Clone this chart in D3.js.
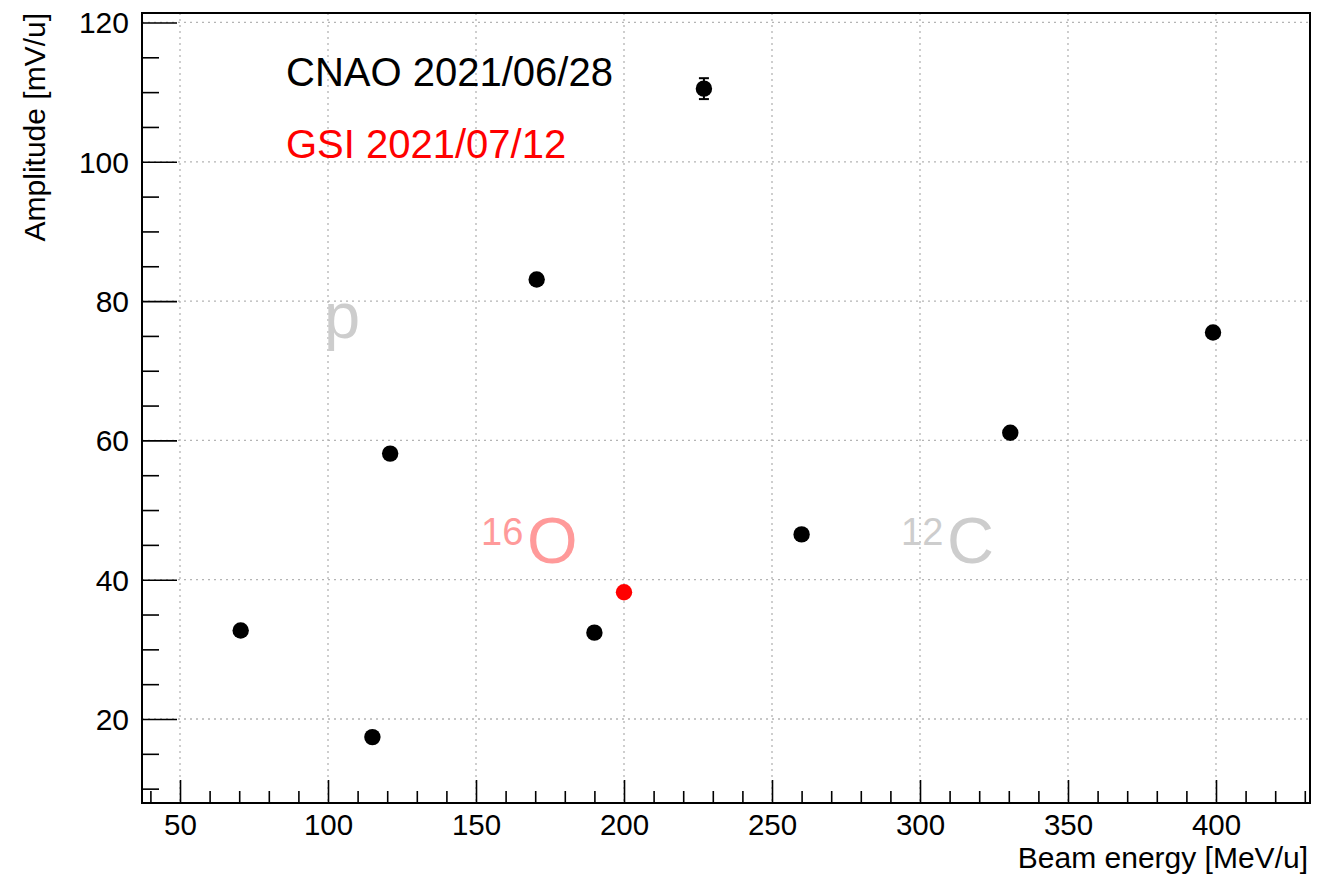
<!DOCTYPE html>
<html>
<head>
<meta charset="utf-8">
<script src="https://cdn.jsdelivr.net/npm/d3@7"></script>
<style>
  body { margin: 0; background: #fff; }
  svg { display: block; font-family: "Liberation Sans", Arial, Helvetica, sans-serif; }
</style>
</head>
<body>
<svg id="chart" width="1321" height="878"></svg>
<script>
// ---- data ----
const cnaoEnergy = [70.5, 115, 121, 170.5, 190, 227, 260, 330.5, 399];
const cnaoAmplitude = [32.7, 17.4, 58.1, 83.1, 32.4, 110.5, 46.5, 61.1, 75.5];
const cnaoError = [0.4, 0.4, 0.4, 0.4, 0.4, 1.5, 0.4, 0.4, 0.4];
const gsiEnergy = [200];
const gsiAmplitude = [38.2];
const gsiError = [0.4];
const xMajorTicks = [50, 100, 150, 200, 250, 300, 350, 400];
const yMajorTicks = [20, 40, 60, 80, 100, 120];
const xTitle = "Beam energy [MeV/u]";
const yTitle = "Amplitude [mV/u]";
const legendLabels = ["CNAO 2021/06/28", "GSI 2021/07/12"];

// ---- layout ----
const L = 142, R = 1310, T = 13, B = 803;
const svg = d3.select("#chart");
const x = d3.scaleLinear().domain([37.16, 431.76]).range([L, R]);
const y = d3.scaleLinear().domain([7.94, 121.36]).range([B, T]);

const xMinor = d3.range(40, 431, 10).filter(v => !xMajorTicks.includes(v));
const yMinor = d3.range(10, 121, 5).filter(v => !yMajorTicks.includes(v));

// grid
const grid = svg.append("g").attr("stroke", "#b4b4b4").attr("stroke-width", 1.3)
  .attr("stroke-dasharray", "2,4");
grid.selectAll("line.gx").data(xMajorTicks).join("line")
  .attr("x1", d => x(d)).attr("x2", d => x(d)).attr("y1", T).attr("y2", B);
grid.selectAll("line.gy").data(yMajorTicks).join("line")
  .attr("x1", L).attr("x2", R).attr("y1", d => y(d)).attr("y2", d => y(d));

// x axis: minor ticks
svg.append("g").attr("transform", `translate(0,${B})`)
  .call(d3.axisBottom(x).tickValues(xMinor).tickSizeInner(-12).tickSizeOuter(0).tickFormat(""))
  .call(g => g.select(".domain").remove())
  .call(g => g.selectAll("line").attr("stroke", "#000").attr("stroke-width", 1.6));
// x axis: major ticks
svg.append("g").attr("transform", `translate(0,${B})`)
  .call(d3.axisBottom(x).tickValues(xMajorTicks).tickSizeInner(-23).tickSizeOuter(0).tickPadding(11))
  .call(g => g.select(".domain").remove())
  .call(g => g.selectAll("line").attr("stroke", "#000").attr("stroke-width", 1.6))
  .call(g => g.selectAll("text").attr("font-size", 29.5).attr("fill", "#000")
    .attr("font-family", "Liberation Sans, Arial, Helvetica, sans-serif"));

// y axis: minor ticks
svg.append("g").attr("transform", `translate(${L},0)`)
  .call(d3.axisLeft(y).tickValues(yMinor).tickSizeInner(-17).tickSizeOuter(0).tickFormat(""))
  .call(g => g.select(".domain").remove())
  .call(g => g.selectAll("line").attr("stroke", "#000").attr("stroke-width", 1.6));
// y axis: major ticks
svg.append("g").attr("transform", `translate(${L},0)`)
  .call(d3.axisLeft(y).tickValues(yMajorTicks).tickSizeInner(-35).tickSizeOuter(0).tickPadding(13))
  .call(g => g.select(".domain").remove())
  .call(g => g.selectAll("line").attr("stroke", "#000").attr("stroke-width", 1.6))
  .call(g => g.selectAll("text").attr("font-size", 30).attr("fill", "#000").attr("dy", "0.35em")
    .attr("font-family", "Liberation Sans, Arial, Helvetica, sans-serif"));

// frame
svg.append("rect").attr("x", L).attr("y", T).attr("width", R - L).attr("height", B - T)
  .attr("fill", "none").attr("stroke", "#000").attr("stroke-width", 2);

// axis titles
svg.append("text").attr("x", 1308).attr("y", 868).attr("text-anchor", "end")
  .attr("font-size", 30).attr("fill", "#000").text(xTitle);
svg.append("text").attr("transform", "translate(45,13) rotate(-90)").attr("text-anchor", "end")
  .attr("font-size", 30).attr("fill", "#000").text(yTitle);

// ion labels
svg.append("text").attr("x", 324).attr("y", 338).attr("font-size", 65).attr("fill", "#cdcdcd").text("p");
svg.append("text").attr("x", 481).attr("y", 545).attr("font-size", 38).attr("fill", "#ff9a9a").text("16");
svg.append("text").attr("x", 527).attr("y", 563).attr("font-size", 65).attr("fill", "#ff9a9a").text("O");
svg.append("text").attr("x", 901).attr("y", 545).attr("font-size", 38).attr("fill", "#cdcdcd").text("12");
svg.append("text").attr("x", 947).attr("y", 563).attr("font-size", 65).attr("fill", "#cdcdcd").text("C");

// legend texts
svg.append("text").attr("x", 286).attr("y", 86).attr("font-size", 40).attr("fill", "#000").text(legendLabels[0]);
svg.append("text").attr("x", 286).attr("y", 158).attr("font-size", 40).attr("fill", "#ff0000").text(legendLabels[1]);

// data
function drawSeries(xs, ys, es, color) {
  const data = xs.map((v, i) => ({ x: v, y: ys[i], e: es[i] }));
  const g = svg.append("g");
  g.selectAll("line.err").data(data).join("line")
    .attr("x1", d => x(d.x)).attr("x2", d => x(d.x))
    .attr("y1", d => y(d.y - d.e)).attr("y2", d => y(d.y + d.e))
    .attr("stroke", color).attr("stroke-width", 2);
  g.selectAll("line.capt").data(data).join("line")
    .attr("x1", d => x(d.x) - 5).attr("x2", d => x(d.x) + 5)
    .attr("y1", d => y(d.y + d.e)).attr("y2", d => y(d.y + d.e))
    .attr("stroke", color).attr("stroke-width", 2);
  g.selectAll("line.capb").data(data).join("line")
    .attr("x1", d => x(d.x) - 5).attr("x2", d => x(d.x) + 5)
    .attr("y1", d => y(d.y - d.e)).attr("y2", d => y(d.y - d.e))
    .attr("stroke", color).attr("stroke-width", 2);
  g.selectAll("circle").data(data).join("circle")
    .attr("cx", d => x(d.x)).attr("cy", d => y(d.y)).attr("r", 8.2).attr("fill", color);
}
drawSeries(cnaoEnergy, cnaoAmplitude, cnaoError, "#000");
drawSeries(gsiEnergy, gsiAmplitude, gsiError, "#ff0000");
</script>
</body>
</html>
